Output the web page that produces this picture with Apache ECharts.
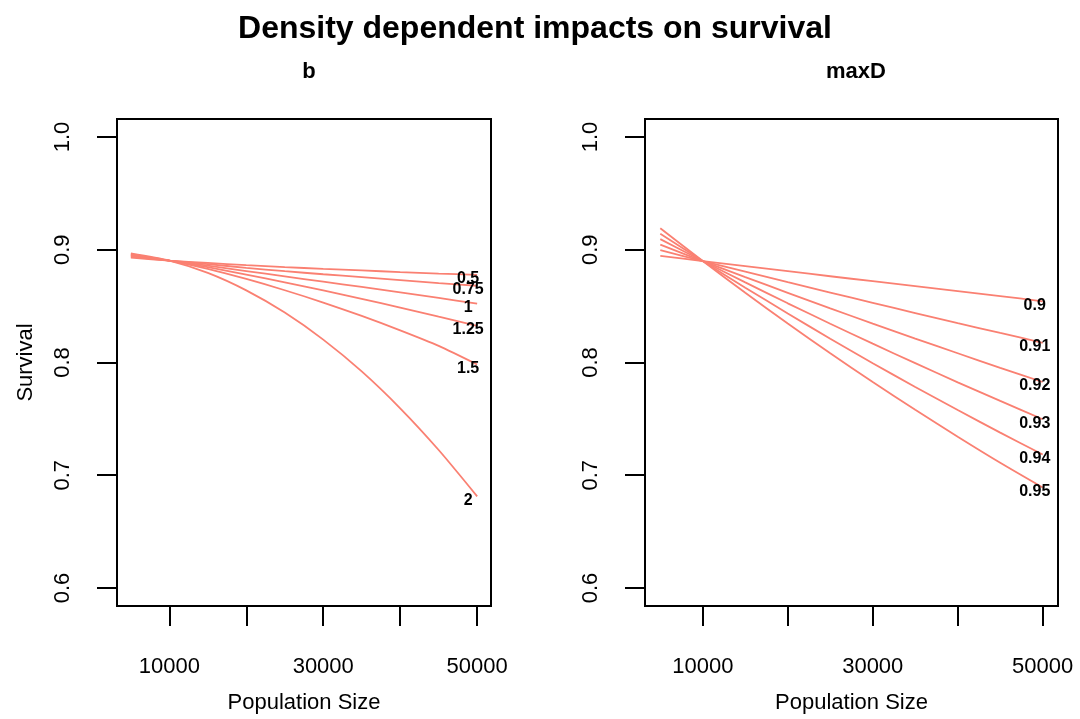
<!DOCTYPE html>
<html>
<head>
<meta charset="utf-8">
<script src="https://cdn.jsdelivr.net/npm/echarts@6/dist/echarts.min.js"></script>
<style>
html,body{margin:0;padding:0;background:#fff;}
#chart{width:1080px;height:719px;}
</style>
</head>
<body>
<div id="chart"></div>
<script>
// ---- data ----
const popSize = [5000, 10000, 15000, 20000, 25000, 30000, 35000, 40000, 45000, 50000];

const bNames = ['0.5', '0.75', '1', '1.25', '1.5', '2'];
const surv_b050 = [0.8930, 0.8904, 0.8883, 0.8863, 0.8846, 0.8831, 0.8817, 0.8802, 0.8789, 0.8777];
const surv_b075 = [0.8939, 0.8904, 0.8872, 0.8840, 0.8810, 0.8783, 0.8757, 0.8731, 0.8705, 0.8681];
const surv_b100 = [0.8947, 0.8904, 0.8859, 0.8811, 0.8764, 0.8717, 0.8670, 0.8622, 0.8573, 0.8522];
const surv_b125 = [0.8954, 0.8904, 0.8846, 0.8780, 0.8711, 0.8639, 0.8565, 0.8487, 0.8406, 0.8325];
const surv_b150 = [0.8960, 0.8904, 0.8831, 0.8741, 0.8641, 0.8532, 0.8413, 0.8285, 0.8147, 0.7982];
const surv_b200 = [0.8968, 0.8904, 0.8795, 0.8640, 0.8443, 0.8203, 0.7921, 0.7594, 0.7224, 0.6813];

const maxDNames = ['0.9', '0.91', '0.92', '0.93', '0.94', '0.95'];
const surv_d090 = [0.8946, 0.8900, 0.8855, 0.8810, 0.8765, 0.8721, 0.8677, 0.8633, 0.8589, 0.8543];
const surv_d091 = [0.8996, 0.8900, 0.8806, 0.8712, 0.8620, 0.8529, 0.8439, 0.8350, 0.8262, 0.8175];
const surv_d092 = [0.9045, 0.8900, 0.8758, 0.8618, 0.8480, 0.8345, 0.8212, 0.8082, 0.7953, 0.7827];
const surv_d093 = [0.9094, 0.8900, 0.8711, 0.8525, 0.8344, 0.8167, 0.7994, 0.7824, 0.7659, 0.7497];
const surv_d094 = [0.9143, 0.8900, 0.8664, 0.8435, 0.8211, 0.7994, 0.7783, 0.7578, 0.7378, 0.7184];
const surv_d095 = [0.9191, 0.8900, 0.8618, 0.8346, 0.8082, 0.7827, 0.7581, 0.7342, 0.7111, 0.6892];

const xTicks = [10000, 20000, 30000, 40000, 50000];
const xTickLabels = [10000, 30000, 50000];
const yTicks = [0.6, 0.7, 0.8, 0.9, 1.0];

// ---- styling ----
const FONT = "'Liberation Sans', Arial, Helvetica, sans-serif";
const LINE_COLOR = '#FA8072';

const bSeriesData = [surv_b050, surv_b075, surv_b100, surv_b125, surv_b150, surv_b200];
const dSeriesData = [surv_d090, surv_d091, surv_d092, surv_d093, surv_d094, surv_d095];

function makeX(gridIndex) {
  return {
    type: 'value', gridIndex: gridIndex, min: 3200, max: 51800,
    axisLine: {show: false},
    splitLine: {show: false},
    axisTick: {show: true, inside: false, length: 20, customValues: xTicks,
               lineStyle: {color: '#000', width: 2}},
    axisLabel: {show: true, customValues: xTickLabels, margin: 50,
                color: '#000', fontSize: 22, fontFamily: FONT,
                formatter: v => String(v)},
    name: 'Population Size', nameLocation: 'middle', nameGap: 86,
    nameTextStyle: {color: '#000', fontSize: 22, fontFamily: FONT}
  };
}
function makeY(gridIndex, withName) {
  const ax = {
    type: 'value', gridIndex: gridIndex, min: 0.584, max: 1.016,
    axisLine: {show: false},
    splitLine: {show: false},
    axisTick: {show: true, inside: false, length: 20, customValues: yTicks,
               lineStyle: {color: '#000', width: 2}},
    axisLabel: {show: true, customValues: yTicks, rotate: 90, margin: 43,
                color: '#000', fontSize: 22, fontFamily: FONT,
                formatter: v => v.toFixed(1)}
  };
  if (withName) {
    ax.name = 'Survival';
    ax.nameLocation = 'middle';
    ax.nameGap = 80;
    ax.nameTextStyle = {color: '#000', fontSize: 22, fontFamily: FONT};
  }
  return ax;
}
function makeSeries(names, dataList, axisIndex, labelDx) {
  return names.map((nm, i) => ({
    type: 'line', name: nm,
    xAxisIndex: axisIndex, yAxisIndex: axisIndex,
    data: popSize.map((x, j) => [x, dataList[i][j]]),
    showSymbol: false, symbol: 'none',
    smooth: 0.25,
    lineStyle: {color: LINE_COLOR, width: 1.8},
    itemStyle: {color: LINE_COLOR},
    endLabel: {show: true, formatter: nm, distance: 0, align: 'center',
               verticalAlign: 'middle', offset: [labelDx, 4],
               color: '#000', fontWeight: 'bold', fontSize: 16, fontFamily: FONT},
    emphasis: {disabled: true},
    z: 2
  }));
}

const chart = echarts.init(document.getElementById('chart'), null, {renderer: 'canvas'});
chart.setOption({
  animation: false,
  backgroundColor: '#fff',
  title: [
    {text: 'Density dependent impacts on survival', left: 530, top: 8, textAlign: 'center',
     textStyle: {fontSize: 32, fontWeight: 'bold', color: '#000', fontFamily: FONT}},
    {text: 'b', left: 304, top: 56, textAlign: 'center',
     textStyle: {fontSize: 22, fontWeight: 'bold', color: '#000', fontFamily: FONT}},
    {text: 'maxD', left: 851, top: 56, textAlign: 'center',
     textStyle: {fontSize: 22, fontWeight: 'bold', color: '#000', fontFamily: FONT}}
  ],
  grid: [
    {left: 117, top: 119, width: 374, height: 487, show: true,
     borderColor: '#000', borderWidth: 2, backgroundColor: 'transparent'},
    {left: 645, top: 119, width: 413, height: 487, show: true,
     borderColor: '#000', borderWidth: 2, backgroundColor: 'transparent'}
  ],
  xAxis: [makeX(0), makeX(1)],
  yAxis: [makeY(0, true), makeY(1, false)],
  series: makeSeries(bNames, bSeriesData, 0, -9).concat(makeSeries(maxDNames, dSeriesData, 1, -8))
});
</script>
</body>
</html>
